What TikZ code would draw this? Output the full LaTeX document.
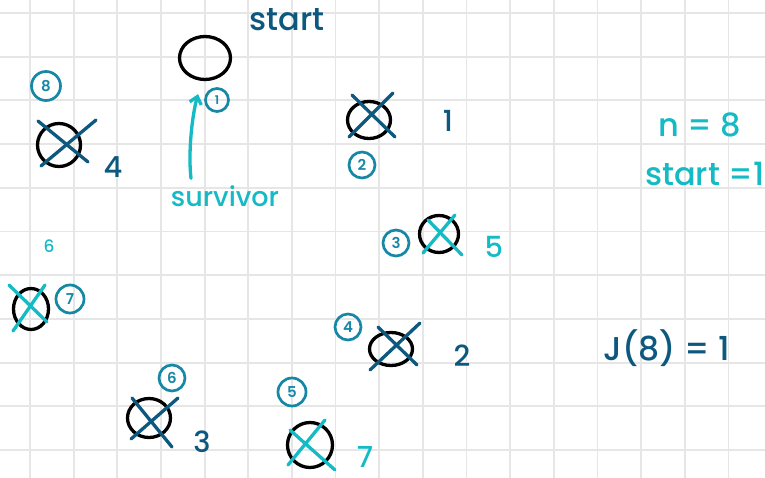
\documentclass[tikz,border=0pt]{standalone}
\usepackage{fontspec}
\setmainfont{Poppins}[UprightFont=* Medium,BoldFont=* SemiBold]
\usetikzlibrary{shapes.geometric,arrows.meta}
\definecolor{inkdark}{RGB}{13,88,126}
\definecolor{inkteal}{RGB}{22,136,166}
\definecolor{inkcyan}{RGB}{20,186,196}
\definecolor{gridgray}{RGB}{230,230,230}

\begin{document}
\begin{tikzpicture}[x=1pt,y=-1pt]
	\tikzset{
		person/.style={draw=black,ellipse,line width=3.3pt,inner sep=0pt},
		tag/.style={draw=inkteal,circle,line width=2.7pt,inner sep=0pt,minimum size=26pt,text=inkteal,font=\fontsize{15}{15}\selectfont\bfseries},
		lab/.style={inner sep=0pt,font=\fontsize{29}{29}\selectfont},
		txt/.style={inner sep=0pt,font=\fontsize{32}{32}\selectfont},
		slash/.style={line width=3.3pt,line cap=round}
	}
	\useasboundingbox (0,0) rectangle (765,478);
	\fill[white] (0,0) rectangle (765,478);
	% squared paper
	\foreach \i in {0,...,16}
		\draw[gridgray,line width=1.8pt] (30+43.65*\i,0) -- (30+43.65*\i,478);
	\foreach \j in {0,...,10}
		\draw[gridgray,line width=1.8pt] (0,13+43.7*\j) -- (765,13+43.7*\j);
	% the eight people
	\foreach \n/\x/\y/\w/\h in {1/205/58/51/43, 2/369/120/43/37, 3/439/234/39/37, 4/391/349/43/33,
		5/310/445/45/45, 6/149/418/43/39, 7/31/309/35/41, 8/59/145/43/43}
		\node[person,minimum width=\w pt,minimum height=\h pt] (p\n) at (\x,\y) {};
	% crossed out
	\foreach \n/\c/\ax/\ay/\bx/\by/\cx/\cy/\dx/\dy in {2/inkdark/-17/-25/26/17/24/-27/-20/17,
		3/inkcyan/-11/-14/23/21/16/-19/-16/19, 4/inkdark/-13/-22/26/16/29/-26/-21/21,
		5/inkcyan/-20/-15/25/25/15/-25/-22/20, 6/inkdark/-17/-20/23/29/29/-20/-18/21,
		7/inkcyan/-22/-24/16/13/14/-24/-18/22, 8/inkdark/-21/-24/29/17/37/-25/-18/21}{
		\draw[slash,\c] ([shift={(\ax,\ay)}]p\n.center) -- ([shift={(\bx,\by)}]p\n.center);
		\draw[slash,\c] ([shift={(\cx,\cy)}]p\n.center) -- ([shift={(\dx,\dy)}]p\n.center);
	}
	% circled numbers
	\node[tag,minimum size=23pt,font=\fontsize{12}{12}\selectfont\bfseries] (t1) at (217,100) {1};
	\node[tag] (t2) at (362,165) {2};
	\node[tag] (t3) at (396,243) {3};
	\node[tag] (t4) at (348,327) {4};
	\node[tag,minimum size=28pt] (t5) at (292,392) {5};
	\node[tag] (t6) at (172,378) {6};
	\node[tag,minimum size=28pt] (t7) at (70,299) {7};
	\node[tag,minimum size=29pt] (t8) at (46,86) {8};
	% order of elimination
	\node[lab,text=inkdark] (l8) at (113,167) {4};
	\node[lab,text=inkdark] (l2) at (448,121) {1};
	\node[lab,text=inkcyan] (l3) at (494,247) {5};
	\node[lab,text=inkdark] (l4) at (462,356) {2};
	\node[lab,text=inkcyan] (l5) at (365,457) {7};
	\node[lab,text=inkdark] (l6) at (202,442) {3};
	\node[lab,text=inkcyan,font=\fontsize{17}{17}\selectfont] (l7) at (49,246) {6};
	% notes
	\node[txt,text=inkdark] (start) at (287,20) {start};
	\node[txt,text=inkcyan,font=\fontsize{27}{27}\selectfont] (surv) at (225,196) {survivor};
	\node[txt,text=inkcyan] (n) at (700,125) {n = 8};
	\node[txt,text=inkcyan,anchor=west] (s) at (645,174) {start =1};
	\node[txt,text=inkdark,font=\fontsize{33}{33}\selectfont] (j) at (667,348) {J(8) = 1};
	\draw[slash,inkcyan,-{Straight Barb[length=7pt,width=12pt]}] ([xshift=-34pt,yshift=7pt]surv.north)
		.. controls +(-3,-25) and +(-6,22) .. ([xshift=-7pt,yshift=-13pt]p1.south);
\end{tikzpicture}
\end{document}
